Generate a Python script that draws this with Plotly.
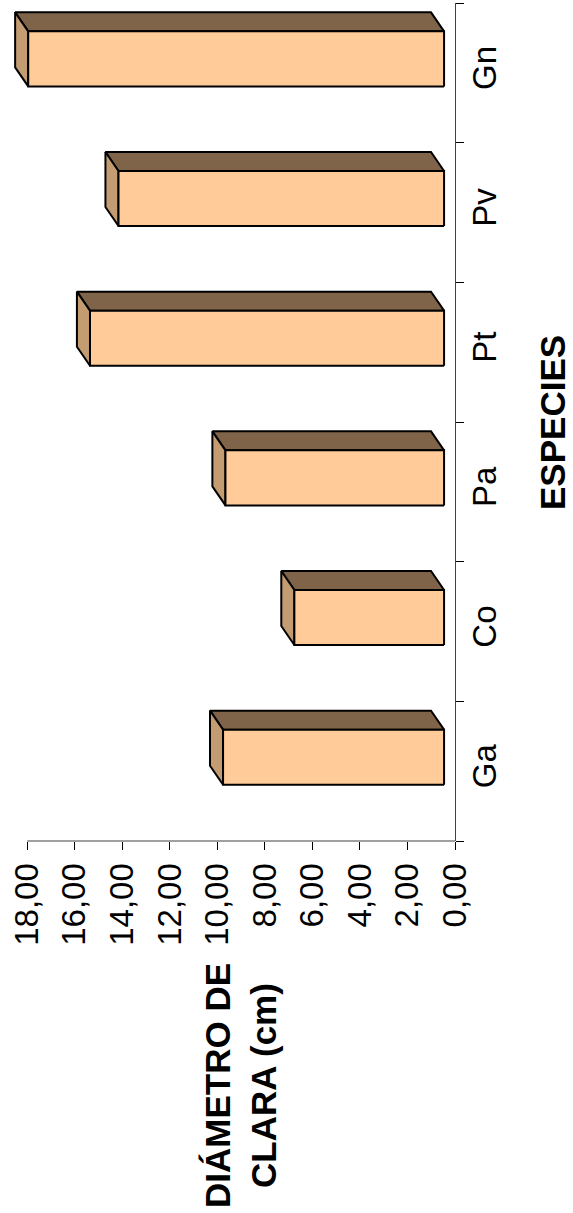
import plotly.graph_objects as go

# Data: clear-cut diameter per species (cm)
especies = ["Ga", "Co", "Pa", "Pt", "Pv", "Gn"]
diametro = [9.3, 6.3, 9.2, 14.9, 13.7, 17.5]

val_ticks = [0, 2, 4, 6, 8, 10, 12, 14, 16, 18]
val_ticktext = [f"{v:.2f}".replace(".", ",") for v in val_ticks]
VAL_MAX = 18

# 3-D box styling (in axis units)
BASE = 0.46        # front face sits slightly behind the floor edge
DEPTH_X = 0.55     # depth offset along the value axis
DEPTH_Y = 0.136    # depth offset along the category axis
SHIFT = 0.10       # front face shift along the category axis
HALF = 0.197       # half thickness of the front face
PAD = 0.6          # room past the last tick so the deepest box is not clipped

FRONT = "#FFCC99"
TOP = "#806449"
CAP = "#C49C72"
EDGE = "black"

fig = go.Figure()

for i, (name, v) in enumerate(zip(especies, diametro)):
    y0 = i + SHIFT - HALF
    y1 = i + SHIFT + HALF
    x0 = BASE
    x1 = BASE + v
    # upper face of the box
    fig.add_trace(go.Scatter(
        x=[x0, x1, x1 + DEPTH_X, x0 + DEPTH_X, x0],
        y=[y1, y1, y1 + DEPTH_Y, y1 + DEPTH_Y, y1],
        mode="lines", fill="toself", fillcolor=TOP,
        line=dict(color=EDGE, width=2), hoverinfo="skip", showlegend=False,
    ))
    # end cap
    fig.add_trace(go.Scatter(
        x=[x1, x1, x1 + DEPTH_X, x1 + DEPTH_X, x1],
        y=[y0, y1, y1 + DEPTH_Y, y0 + DEPTH_Y, y0],
        mode="lines", fill="toself", fillcolor=CAP,
        line=dict(color=EDGE, width=2), hoverinfo="skip", showlegend=False,
    ))
    # front face
    fig.add_trace(go.Scatter(
        x=[x0, x1, x1, x0, x0],
        y=[y0, y0, y1, y1, y0],
        mode="lines", fill="toself", fillcolor=FRONT,
        line=dict(color=EDGE, width=2), name=name, showlegend=False,
    ))

tick_font = dict(family="Liberation Sans, Arial, sans-serif", size=33, color="black")
title_font = dict(family="Liberation Sans, Arial, sans-serif", size=35, color="black")

fig.update_layout(
    width=573, height=1213,
    margin=dict(l=13, r=118, t=3, b=372),
    paper_bgcolor="white", plot_bgcolor="white",
    xaxis=dict(
        range=[VAL_MAX + PAD, 0], tickmode="array", tickvals=val_ticks, ticktext=val_ticktext,
        tickangle=-90, tickfont=tick_font, ticks="outside", ticklen=8,
        tickcolor="black", tickwidth=1,
        showline=False, showgrid=False, zeroline=False, fixedrange=True,
    ),
    yaxis=dict(
        range=[-0.5, 5.5], side="right", tickmode="array",
        tickvals=list(range(len(especies))), ticktext=especies,
        tickangle=-90, tickfont=tick_font, ticks="", ticklen=0,
        minor=dict(tickmode="linear", tick0=-0.5, dtick=1, ticks="outside",
                   ticklen=8, tickcolor="black", tickwidth=1, showgrid=False),
        showline=True, linecolor="#404040", linewidth=1,
        showgrid=False, zeroline=False, fixedrange=True,
    ),
    shapes=[
        # value axis line, spanning only the ticked range
        dict(type="line", xref="x", yref="paper", x0=0, x1=VAL_MAX, y0=0, y1=0,
             line=dict(color="#404040", width=1)),
    ],
    annotations=[
        dict(text="<b>ESPECIES</b>", textangle=-90, font=title_font,
             xref="paper", yref="paper", x=(552 - 13) / 442, y=(841 - 423) / 838,
             xanchor="center", yanchor="middle", showarrow=False),
        dict(text="<b>DIÁMETRO DE<br>CLARA (cm)</b>", textangle=-90, font=title_font,
             xref="paper", yref="paper", x=(240 - 13) / 442, y=(841 - 1085) / 838,
             xanchor="center", yanchor="middle", showarrow=False),
    ],
)

fig.write_html("out.html")
